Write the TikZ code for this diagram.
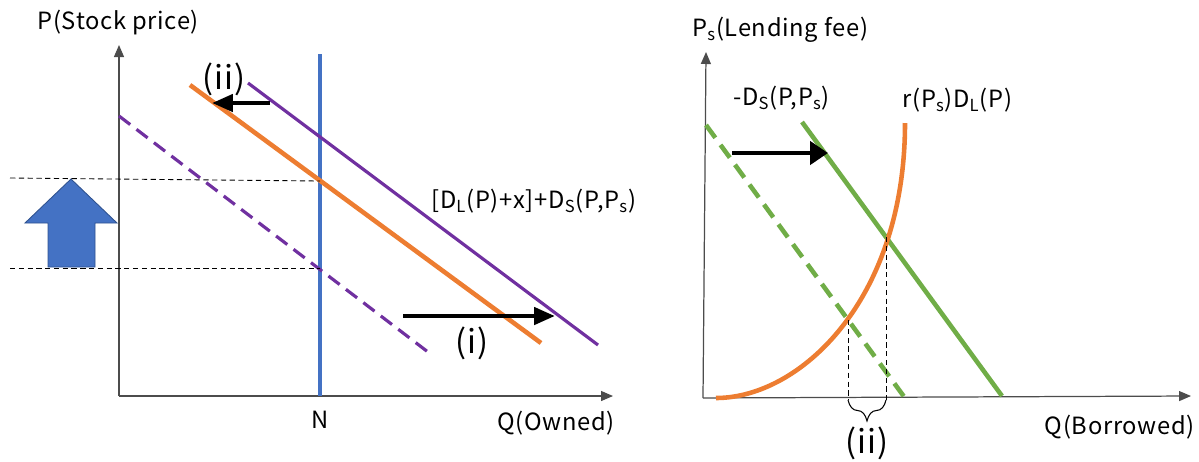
\documentclass[tikz,border=0pt]{standalone}
\usepackage{fontspec}
\setmainfont{Noto Sans CJK JP}
\newfontfamily\lblfont[LetterSpace=3]{Noto Sans CJK JP}
\usetikzlibrary{arrows.meta,decorations.pathreplacing}

\definecolor{curveorange}{HTML}{ED7D31}
\definecolor{curvepurple}{HTML}{7030A0}
\definecolor{curveblue}{HTML}{4472C4}
\definecolor{curvegreen}{HTML}{70AD47}
\definecolor{blueedge}{HTML}{2F528F}

\tikzset{
  axisline/.style={draw=black!70, line width=0.7pt, -{Triangle[length=0.24cm,width=0.2cm]}},
  shiftarrow/.style={line width=2.6pt, -{Triangle[length=0.42cm,width=0.34cm]}},
  guide/.style={line width=0.5pt, dash pattern=on 3pt off 2pt},
  lbl/.style={font=\lblfont\fontsize{13.5}{15}\selectfont, inner sep=0pt},
  bigl/.style={font=\lblfont\fontsize{18.5}{20}\selectfont, inner sep=0pt}
}

\begin{document}
\begin{tikzpicture}[x=0.02cm,y=-0.02cm]
\useasboundingbox (0,0) rectangle (1199,461);

% Left panel: axes
\coordinate (LO) at (119,396);
\draw[axisline] (LO) -- (119,45);
\draw[axisline] (LO) -- (613,396);

% Supply N
\draw[curveblue, line width=1.9pt] (320,54) -- (320,396);

% Demand curves
\draw[curvepurple, line width=1.8pt] (248,83) -- (598,345);
\draw[curveorange, line width=2.6pt] (190,85) -- (541,343);
\draw[curvepurple, line width=1.8pt, dash pattern=on 8pt off 4.5pt] (119,116) -- (428,352);

% Price levels
\coordinate (hi) at (320,181);
\coordinate (lo) at (320,268);
\draw[guide] (10,178) -- (hi);
\draw[guide] (10,268) -- (lo);

% Block arrow
\draw[fill=curveblue, draw=blueedge, line width=0.5pt]
  (48,267) -- (48,223) -- (25,223) -- (71,179) -- (117,223) -- (95,223) -- (95,267) -- cycle;

% Shifts
\draw[shiftarrow] (270,103) -- (212,103);
\draw[shiftarrow] (403,316) -- (555,316);

% Labels
\node[lbl, anchor=west] (pstock) at (37,23) {P(Stock price)};
\node[lbl] (nlab) at (320,420) {N};
\node[lbl, anchor=east] (qowned) at (615,423) {Q(Owned)};
\node[lbl, anchor=west] (dtotal) at (431,201) {[D\textsubscript{L}(P)+x]+D\textsubscript{S}(P,P\textsubscript{s})};
\node[bigl] (iiL) at (224,79) {(ii)};
\node[bigl] (iL) at (472,343) {(i)};

% Right panel: axes
\coordinate (RO) at (703,398);
\draw[axisline] (RO) -- (706,52);
\draw[axisline] (RO) -- (1191,396);

% Short demand and lending supply
\draw[curvegreen, line width=2.6pt] (802,122) -- (1002,396);
\draw[curvegreen, line width=2.6pt, dash pattern=on 9pt off 5pt] (706,125) -- (905,398);
\draw[curveorange, line width=2.6pt] (716,398) .. controls (800,398) and (905,300) .. (905,123);

% Equilibria
\coordinate (eqA) at (848,320);
\coordinate (eqB) at (886,237);
\draw[guide] (eqA) -- (848,400);
\draw[guide] (eqB) -- (886,400);
\draw[line width=0.6pt, decorate, decoration={brace, mirror, amplitude=0.42cm}] (848,400) -- (886,400);

% Shift
\draw[shiftarrow, -{Triangle[length=0.36cm,width=0.46cm]}] (732,153) -- (828,153);

% Labels
\node[lbl, anchor=west] (pslab) at (692,30) {P\textsubscript{s}(Lending fee)};
\node[lbl, anchor=west] (dslab) at (733,98) {-D\textsubscript{S}(P,P\textsubscript{s})};
\node[lbl, anchor=west] (rlab) at (902,100) {r(P\textsubscript{s})D\textsubscript{L}(P)};
\node[bigl] (iiR) at (867,443) {(ii)};
\node[lbl, anchor=east] (qborr) at (1195,427) {Q(Borrowed)};

\end{tikzpicture}
\end{document}
